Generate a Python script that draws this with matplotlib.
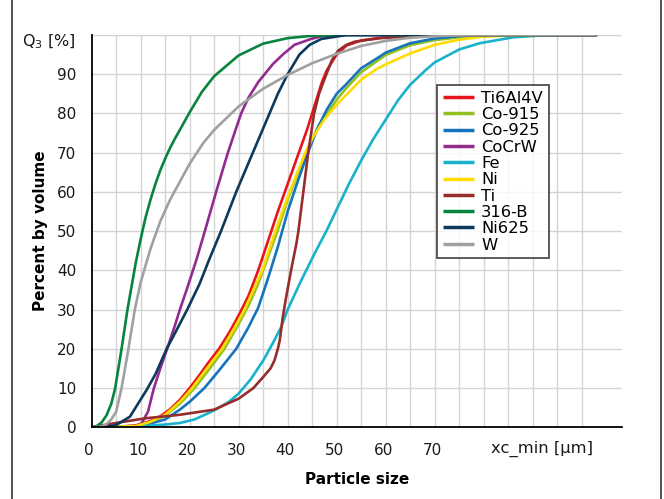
import matplotlib
matplotlib.use("Agg")
import matplotlib.pyplot as plt
import matplotlib.transforms as mtransforms
from matplotlib.lines import Line2D

plt.rcParams['font.family'] = ['DejaVu Sans']

# ---- data (particle size [µm], cumulative percent) ----
ti6al4v_x = [0, 5, 9, 12, 14, 16, 18, 20, 22, 24, 26, 28, 30, 32, 34, 36, 38, 40, 42, 44, 45, 46, 47, 48, 50, 52, 55, 60, 66, 80, 103]
ti6al4v_y = [0, 0.1, 0.5, 1.6, 2.8, 4.6, 7, 10, 13.3, 16.8, 20, 24, 28.5, 33.5, 40, 47.5, 55, 62, 69, 76, 80, 84, 88, 91, 95, 97.3, 98.6, 99.5, 99.9, 100, 100]

co915_x = [0, 9, 12, 15, 18, 21, 24, 27, 30, 32, 34, 36, 38, 40, 42, 44, 46, 48, 50, 52, 55, 60, 65, 70, 75, 85, 103]
co915_y = [0, 0.3, 1.2, 3, 6, 10, 14.8, 19.8, 26.3, 31, 36.6, 43.4, 50.3, 58, 64.5, 70.5, 75.8, 79.8, 83.5, 86.5, 90.5, 94.9, 97.4, 98.7, 99.4, 100, 100]

co925_x = [0, 10, 15, 18, 20, 23, 26, 29.5, 32, 34, 36, 38, 40, 42, 44, 46, 48, 50, 52, 55, 58.8, 60, 65, 70, 75, 80, 103]
co925_y = [0, 0.3, 2, 4.5, 6.5, 10, 14.5, 20, 25.5, 30.5, 38, 46, 55, 62.5, 69.5, 76, 81, 85, 87.5, 91.5, 94.5, 95.5, 97.9, 99.1, 99.7, 100, 100]

cocrw_x = [0, 8, 10, 11.5, 12.7, 14, 15.4, 17, 18, 19.5, 21.4, 23.1, 25.4, 27.8, 30.5, 32, 34, 35.3, 37, 39, 41.4, 44.8, 47, 50, 103]
cocrw_y = [0, 0.1, 0.6, 4, 10, 15, 20, 26, 30, 35.5, 42.8, 50, 60, 70, 80, 84, 88, 90, 92.6, 95, 97.5, 99, 99.7, 100, 100]

fe_x = [0, 10, 15, 18, 21, 25, 28, 30, 32.5, 35, 37, 38.7, 40, 42.8, 45.5, 47.9, 50, 52.5, 55, 57.5, 60, 62.5, 65, 68.4, 70, 75, 79.2, 86, 93, 103.3]
fe_y = [0, 0.3, 0.7, 1.1, 2, 4.3, 6.5, 8.6, 12.3, 17, 21.5, 25.6, 30, 37.5, 44.3, 50, 55.5, 62, 68, 73.5, 78.4, 83.3, 87.3, 91.3, 93, 96.3, 97.9, 99.4, 100, 100]

ni_x = [0, 9, 12, 15, 18, 20.5, 23.5, 26.6, 29, 31.2, 33, 34.8, 37.5, 40.4, 43.6, 45.2, 47.5, 50, 55, 58, 60, 65, 70, 75, 80, 88, 103]
ni_y = [0, 0.3, 1.4, 3.2, 6.5, 10, 15, 20, 25, 30, 35, 40, 50, 60, 70, 74, 78.5, 82.2, 88.6, 91.2, 92.5, 95.3, 97.5, 98.8, 99.6, 100, 100]

ti_x = [0, 4.4, 11, 18, 25, 30, 33, 35, 36.5, 37.3, 38, 38.4, 39, 39.7, 40.7, 41.8, 42.2, 43.2, 44.2, 45.4, 46.4, 47.6, 49, 50.3, 52, 53.7, 59, 66, 72, 103]
ti_y = [0, 1, 2.3, 3.2, 4.5, 7.3, 10, 12.8, 15, 17, 20, 22.2, 28, 33.2, 40, 46.9, 50, 60, 70, 80, 85, 89, 93.5, 96, 97.5, 98.3, 99.2, 99.7, 100, 100]

b316_x = [0, 1, 2, 3, 4, 4.8, 6.1, 7.3, 9, 10, 11, 12, 13, 14, 15, 16, 17, 18, 20, 22.5, 25, 30, 35, 40, 45, 50, 103]
b316_y = [0, 0.3, 1.2, 3, 6, 10, 20, 30, 42, 48, 53.5, 58, 62, 65.5, 68.5, 71.2, 73.6, 75.8, 80.3, 85.5, 89.5, 94.8, 97.8, 99.2, 99.8, 100, 100]

ni625_x = [0, 3, 5, 7.8, 11.2, 13, 15.3, 17, 19.5, 22, 24, 26.4, 29.5, 32.9, 36.3, 38, 40, 42.4, 44.5, 46.9, 52, 103]
ni625_y = [0, 0.1, 0.6, 2.7, 9.5, 13.5, 20, 24, 30, 36.5, 42.8, 50, 60, 70, 80, 85, 90, 95, 97.5, 99, 100, 100]

w_x = [0, 2, 3, 4, 5, 6.1, 7.5, 8.8, 10, 12, 14, 16, 18, 20, 22.8, 25, 30, 35, 40, 45, 50, 55, 60, 65, 72, 80, 103]
w_y = [0, 0.2, 0.8, 2, 4, 10, 20, 30, 37, 45.5, 52.5, 58, 62.6, 67.2, 72.5, 75.8, 81.8, 86.3, 89.8, 92.8, 95.2, 97.2, 98.5, 99.3, 99.8, 100, 100]

series_names = ["Ti6Al4V", "Co-915", "Co-925", "CoCrW", "Fe", "Ni", "Ti", "316-B", "Ni625", "W"]
series_x = [ti6al4v_x, co915_x, co925_x, cocrw_x, fe_x, ni_x, ti_x, b316_x, ni625_x, w_x]
series_y = [ti6al4v_y, co915_y, co925_y, cocrw_y, fe_y, ni_y, ti_y, b316_y, ni625_y, w_y]
colors = ["#e8141c", "#94c122", "#1574bc", "#932b8e", "#19b2cc",
          "#ffdc00", "#962c2c", "#08843e", "#0b3a5c", "#a0a0a0"]

x_tick_vals = [0, 10, 20, 30, 40, 50, 60, 70]
y_tick_vals = [0, 10, 20, 30, 40, 50, 60, 70, 80, 90]

# ---- figure ----
fig = plt.figure(figsize=(6.64, 4.99), dpi=100)
ax = fig.add_axes([91.7/664, 1-427.3/499, 530/664, 392.3/499])
ax.set_xlim(0, 108.2)
ax.set_ylim(0, 100)

for xs, ys, c, n in zip(series_x, series_y, colors, series_names):
    ax.plot(xs, ys, color=c, lw=1.9, label=n, solid_capstyle='butt')

# grid lines (every 5 in x, every 10 in y)
for gx in range(5, 101, 5):
    ax.axvline(gx, color='#d4d4d4', lw=1.0, zorder=0)
for gy in range(10, 101, 10):
    ax.axhline(gy, color='#d4d4d4', lw=1.0, zorder=0)

ax.set_xticks(x_tick_vals)
ax.set_xticklabels([str(v) for v in x_tick_vals])
ax.set_yticks(y_tick_vals)
ax.set_yticklabels([str(v) for v in y_tick_vals])
ax.tick_params(which='both', length=0, labelsize=11, colors='#1a1a1a')
ax.tick_params(axis='x', pad=11)
ax.tick_params(axis='y', pad=11)
shift = mtransforms.ScaledTranslation(-2.5/100, 0, fig.dpi_scale_trans)
for lbl in ax.get_xticklabels():
    lbl.set_transform(lbl.get_transform() + shift)

for s in ['top', 'right']:
    ax.spines[s].set_visible(False)
for s in ['left', 'bottom']:
    ax.spines[s].set_color('black')
    ax.spines[s].set_linewidth(1.3)
    ax.spines[s].set_zorder(5)

# extra axis texts
trans = mtransforms.blended_transform_factory(ax.transData, ax.transAxes)
ax.text(92, -0.0553, "xc_min [µm]", transform=trans, ha='center', va='center',
        fontsize=11.8, color='#1a1a1a')
trans_y = mtransforms.blended_transform_factory(ax.transAxes, ax.transData)
ax.text(-0.0296, 98.3, "Q$_3$ [%]", transform=trans_y, ha='right', va='center',
        fontsize=11.5, color='#1a1a1a')

fig.text(356.7/664, 1-480/499, "Particle size", fontsize=11, fontweight='bold',
         ha='center', va='center')
fig.text(40.5/664, 1-231/499, "Percent by volume", fontsize=11, fontweight='bold',
         ha='center', va='center', rotation=90)

leg = ax.legend(loc='upper left', bbox_to_anchor=((437-91.7)/530, (427.3-85)/392.3),
                borderaxespad=0, fontsize=11.8, frameon=True, fancybox=False,
                handlelength=1.9, handletextpad=0.45, labelspacing=0.08,
                borderpad=0.35)
leg.get_frame().set_edgecolor('#222222')
leg.get_frame().set_linewidth(1.3)
leg.set_zorder(6)
for l in leg.get_lines():
    l.set_linewidth(2.5)

# outer frame lines
fig.add_artist(Line2D([12/664, 12/664], [0, 1], color='#333333', lw=1.2, transform=fig.transFigure))
fig.add_artist(Line2D([661/664, 661/664], [0, 1], color='#333333', lw=1.2, transform=fig.transFigure))

fig.savefig("out.png", dpi=100)
